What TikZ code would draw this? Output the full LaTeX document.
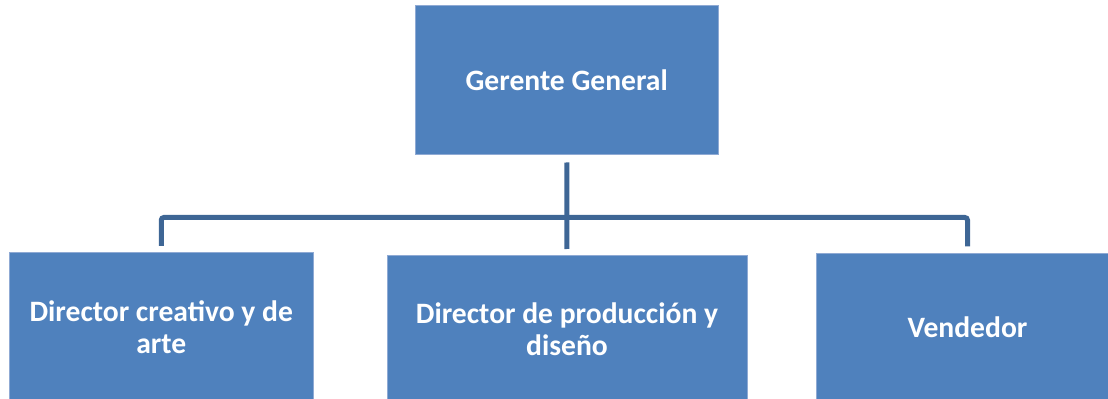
\documentclass[tikz,border=0pt]{standalone}
\usepackage{fontspec}
\setmainfont{Carlito}
\usepackage{tikz}
\definecolor{boxblue}{HTML}{4F81BD}
\definecolor{boxedge}{HTML}{8FAAD4}
\definecolor{linkblue}{HTML}{3E6695}
\tikzset{orgbox/.style={rectangle,draw=boxedge,line width=0.6pt,fill=boxblue,
           inner sep=0pt,outer sep=0pt,minimum height=111.75pt,align=center,
           text=white,font=\bfseries\fontsize{22.2}{24.3}\selectfont},
         orglink/.style={draw=linkblue,line width=3.75pt}}

\begin{document}
\begin{tikzpicture}[x=0.75pt,y=-0.75pt]
\useasboundingbox (0,0) rectangle (1108,399);
\clip (0,0) rectangle (1108,399);

%%boss on top
\node[orgbox,minimum width=227pt] (gerente) at (566.75,80) {Gerente General};

%%three boxes below, cut by the page edge
\node[orgbox,minimum width=227.5pt] (creativo) at (161.25,327) {Director creativo y de\\arte};
\node[orgbox,minimum width=270pt] (produccion) at (567,329.5) {Director de producción y\\diseño};
\node[orgbox,minimum width=227.25pt] (vendedor) at (967.5,327.5) {Vendedor};

\coordinate (bus) at (gerente.south |- 0,217.5);
\draw[orglink,shorten <=6pt,shorten >=4.5pt] (gerente.south) -- (produccion.north);
\draw[orglink,rounded corners=2pt,shorten <=5pt,shorten >=5pt] (creativo.north) |- (bus) -| (vendedor.north);

\end{tikzpicture}
\end{document}
